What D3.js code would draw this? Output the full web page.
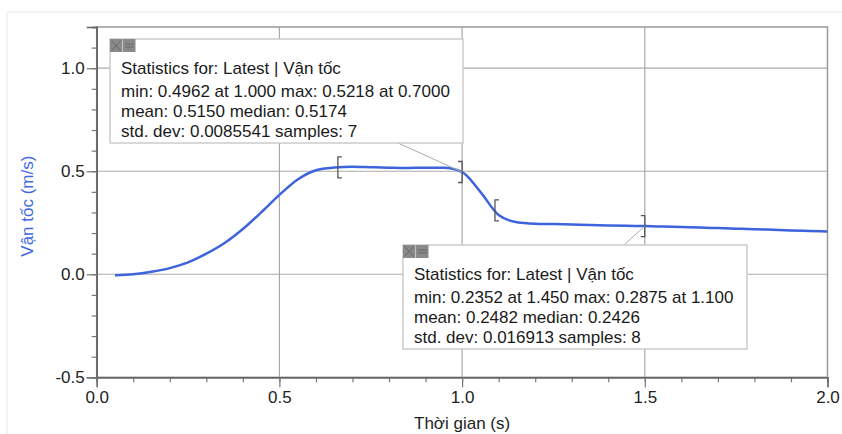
<!DOCTYPE html>
<html>
<head>
<meta charset="utf-8">
<script src="https://cdn.jsdelivr.net/npm/d3@7"></script>
<style>
  body { margin: 0; background: #fff; }
  text { font-family: "Liberation Sans", Arial, sans-serif; }
</style>
</head>
<body>
<div id="app"></div>
<script>
// time (s) and velocity (m/s), sampled every 0.05 s
const times = [0.05, 0.1, 0.15, 0.2, 0.25, 0.3, 0.35, 0.4, 0.45, 0.5,
  0.55, 0.6, 0.65, 0.7, 0.75, 0.8, 0.85, 0.9, 0.95, 1.0,
  1.05, 1.1, 1.15, 1.2, 1.25, 1.3, 1.35, 1.4, 1.45, 1.5,
  1.55, 1.6, 1.65, 1.7, 1.75, 1.8, 1.85, 1.9, 1.95, 2.0];
const velocity = [-0.005, 0.0, 0.012, 0.03, 0.058, 0.1, 0.152, 0.22, 0.3, 0.385,
  0.46, 0.505, 0.518, 0.5218, 0.5195, 0.5174, 0.516, 0.5175, 0.5166, 0.4962,
  0.40, 0.2875, 0.2525, 0.2455, 0.2437, 0.2415, 0.2395, 0.237, 0.2352, 0.234,
  0.2315, 0.229, 0.2265, 0.224, 0.2215, 0.219, 0.216, 0.213, 0.2105, 0.208];

const xTicks = [0.0, 0.5, 1.0, 1.5, 2.0];
const yTicks = [-0.5, 0.0, 0.5, 1.0];

// statistics boxes: bracket range and text lines
const stats1Range = [0.66, 1.0];
const stats1Lines = [
  "Statistics for: Latest | Vận tốc",
  "min: 0.4962 at 1.000 max: 0.5218 at 0.7000",
  "mean: 0.5150 median: 0.5174",
  "std. dev: 0.0085541 samples: 7"
];
const stats2Range = [1.09, 1.5];
const stats2Lines = [
  "Statistics for: Latest | Vận tốc",
  "min: 0.2352 at 1.450 max: 0.2875 at 1.100",
  "mean: 0.2482 median: 0.2426",
  "std. dev: 0.016913 samples: 8"
];

const W = 842, H = 434;
const margin = { left: 96.7, right: W - 827.5, top: 27, bottom: H - 377.3 };

const svg = d3.select("#app").append("svg")
  .attr("width", W).attr("height", H);

// outer panel edge
svg.append("line").attr("x1", 7).attr("x2", W).attr("y1", 12).attr("y2", 12)
  .attr("stroke", "#eee").attr("stroke-width", 1.5);
svg.append("line").attr("x1", 7).attr("x2", 7).attr("y1", 12).attr("y2", H)
  .attr("stroke", "#eee").attr("stroke-width", 1.5);

const x = d3.scaleLinear().domain([0, 2]).range([margin.left, W - margin.right]);
const y = d3.scaleLinear().domain([-0.5, 1.2]).range([H - margin.bottom, margin.top]);

const fmt = d => d3.format(".1f")(d).replace("\u2212", "-");

//grid
svg.append("g").selectAll("line").data(xTicks.slice(1, -1)).enter().append("line")
  .attr("x1", d => x(d)).attr("x2", d => x(d))
  .attr("y1", y(1.2)).attr("y2", y(-0.5))
  .attr("stroke", "#aaa").attr("stroke-width", 1.2);
svg.append("g").selectAll("line").data(yTicks.slice(1)).enter().append("line")
  .attr("x1", x(0)).attr("x2", x(2))
  .attr("y1", d => y(d)).attr("y2", d => y(d))
  .attr("stroke", "#aaa").attr("stroke-width", 1.2);

// frame
svg.append("rect")
  .attr("x", x(0)).attr("y", y(1.2))
  .attr("width", x(2) - x(0)).attr("height", y(-0.5) - y(1.2))
  .attr("fill", "none").attr("stroke", "#999").attr("stroke-width", 1.5);

//axes
const xAxis = svg.append("g")
  .attr("transform", `translate(0,${y(-0.5)})`)
  .call(d3.axisBottom(x).tickValues(d3.range(0, 21).map(i => i / 10))
    .tickSize(5).tickFormat(""));
const xMajor = svg.append("g")
  .attr("transform", `translate(0,${y(-0.5)})`)
  .call(d3.axisBottom(x).tickValues(xTicks).tickSize(10).tickFormat(fmt));
const yAxis = svg.append("g")
  .attr("transform", `translate(${x(0)},0)`)
  .call(d3.axisLeft(y).tickValues(d3.range(-5, 13).map(i => i / 10))
    .tickSize(5).tickFormat(""));
const yMajor = svg.append("g")
  .attr("transform", `translate(${x(0)},0)`)
  .call(d3.axisLeft(y).tickValues(yTicks).tickSize(10).tickFormat(fmt));

[xAxis, xMajor, yAxis, yMajor].forEach(g => {
  g.select(".domain").attr("stroke", "#666").attr("stroke-width", 1.5);
  g.selectAll(".tick line").attr("stroke", "#777").attr("stroke-width", 1.2);
  g.selectAll(".tick text").attr("font-size", 17).attr("fill", "#222")
    .style("font-family", "Liberation Sans, Arial, sans-serif");
});
xMajor.selectAll(".tick text").attr("dy", "0.71em").attr("y", 14);
yMajor.selectAll(".tick text").attr("x", -12);

// axis titles
svg.append("text")
  .attr("transform", `translate(33,${(y(-0.5) + y(1.2)) / 2 + 4}) rotate(-90)`)
  .attr("text-anchor", "middle")
  .attr("font-size", 17).attr("fill", "#4169e1")
  .text("Vận tốc (m/s)");
svg.append("text")
  .attr("x", (x(0) + x(2)) / 2).attr("y", 429)
  .attr("text-anchor", "middle")
  .attr("font-size", 17).attr("fill", "#222")
  .text("Thời gian (s)");

// velocity line
const data = times.map((t, i) => ({ t: t, v: velocity[i] }));
const line = d3.line().x(d => x(d.t)).y(d => y(d.v)).curve(d3.curveMonotoneX);
svg.append("path")
  .datum(data)
  .attr("fill", "none")
  .attr("stroke", "#3d63dd")
  .attr("stroke-width", 2.5)
  .attr("d", line);

const valueAt = t => {
  const i = d3.bisectLeft(times, t);
  if (i <= 0) return velocity[0];
  const t0 = times[i - 1], t1 = times[i];
  return velocity[i - 1] + (velocity[i] - velocity[i - 1]) * (t - t0) / (t1 - t0);
};

function bracket(t, side) {
  const cx = x(t), cy = y(valueAt(t));
  const dir = side === "left" ? 1 : -1;
  svg.append("path")
    .attr("d", `M${cx + dir * 4},${cy - 10.5} H${cx} V${cy + 10.5} H${cx + dir * 4}`)
    .attr("fill", "none").attr("stroke", "#555").attr("stroke-width", 1.3);
}

function statsBox(bx, by, bw, bh, lines, leaderFrom, leaderT) {
  svg.append("line")
    .attr("x1", leaderFrom[0]).attr("y1", leaderFrom[1])
    .attr("x2", x(leaderT)).attr("y2", y(valueAt(leaderT)))
    .attr("stroke", "#aaa").attr("stroke-width", 1);
  svg.append("rect")
    .attr("x", bx).attr("y", by).attr("width", bw).attr("height", bh)
    .attr("fill", "#fff").attr("stroke", "#ccc").attr("stroke-width", 1.5);
  // close / minimise icons
  const ic = svg.append("g").attr("transform", `translate(${bx},${by})`);
  ic.append("rect").attr("width", 12.5).attr("height", 13).attr("fill", "#8a8a8a");
  ic.append("rect").attr("x", 13).attr("width", 12.5).attr("height", 13).attr("fill", "#8a8a8a");
  ic.append("path").attr("d", "M1.5,1.5 L11,11.5 M11,1.5 L1.5,11.5")
    .attr("stroke", "#666").attr("stroke-width", 1);
  ic.append("path").attr("d", "M15,5 H24 M15,8 H24")
    .attr("stroke", "#666").attr("stroke-width", 1);
  const offsets = [35, 58, 78, 98];
  svg.append("g").selectAll("text").data(lines).enter().append("text")
    .attr("x", bx + 11)
    .attr("y", (d, i) => by + offsets[i])
    .attr("font-size", 17).attr("fill", "#1a1a1a")
    .text(d => d);
}

bracket(stats1Range[0], "left");
bracket(stats1Range[1], "right");
bracket(stats2Range[0], "left");
bracket(stats2Range[1], "right");

statsBox(110, 39, 353, 104, stats1Lines, [398, 143], stats1Range[1]);
statsBox(403, 245, 344, 104, stats2Lines, [625, 244], stats2Range[1]);
</script>
</body>
</html>
